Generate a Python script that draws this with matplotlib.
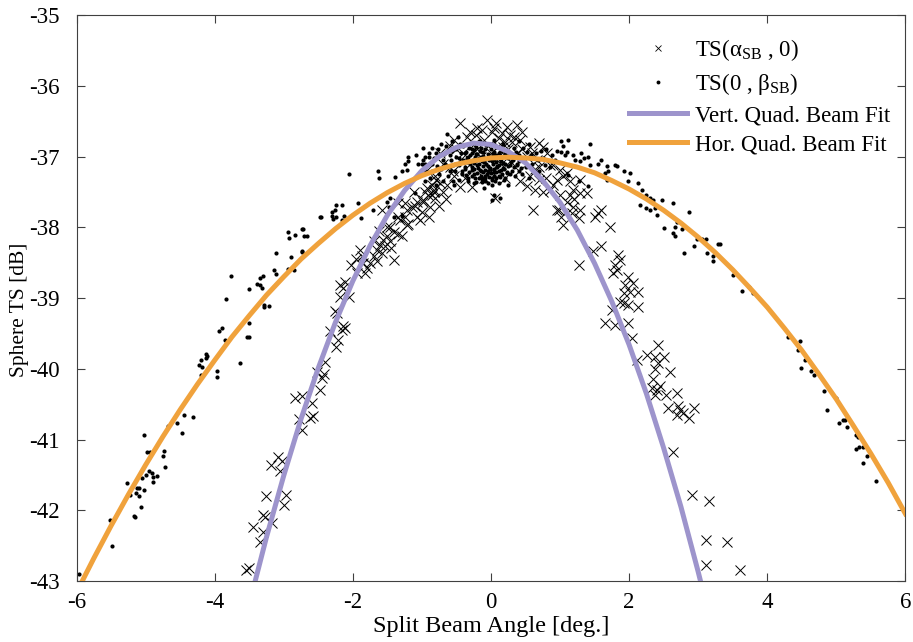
import numpy as np
import matplotlib.pyplot as plt
from matplotlib.lines import Line2D

plt.rcParams['font.family'] = ['Liberation Serif', 'DejaVu Serif']
plt.rcParams['mathtext.fontset'] = 'custom'
plt.rcParams['mathtext.rm'] = 'Liberation Serif'
plt.rcParams['mathtext.it'] = 'Liberation Serif'
plt.rcParams['axes.unicode_minus'] = False

# TS(alpha_SB, 0) : vertical split-beam angle scan (crosses)
alpha_pts = [
    (-2.84, -40.42), (-2.73, -40.39), (-2.78, -40.71), (-2.74, -40.86), (-3.08, -41.25),
    (-3.19, -41.36), (-3.02, -41.30), (-3.06, -41.44), (-3.25, -41.80), (-2.97, -41.79),
    (-3.00, -41.93), (-3.30, -42.06), (-3.27, -42.09), (-3.45, -42.24), (-3.17, -42.18),
    (-3.30, -42.31), (-3.35, -42.45), (-3.54, -42.85), (-3.51, -42.82),
    (-2.18, -38.98), (-2.06, -38.99), (-2.26, -39.19), (-2.23, -39.21), (-2.14, -39.40),
    (-2.16, -39.45), (-2.11, -39.43), (-2.21, -39.59), (-2.24, -39.69), (-2.33, -39.47),
    (-2.40, -39.90), (-2.52, -40.04), (-2.42, -40.08), (-2.45, -40.13), (-2.48, -40.30),
    (-2.59, -40.48), (-2.57, -40.67), (-2.62, -40.70),
    (-0.79, -37.33), (-0.86, -37.40), (-0.93, -37.45), (-0.83, -37.50), (-0.91, -37.54),
    (-0.81, -37.59), (-0.98, -37.61), (-1.07, -37.64), (-1.12, -37.50), (-1.15, -37.71),
    (-1.22, -37.75), (-1.07, -37.85), (-1.24, -37.85), (-1.32, -37.90), (-1.22, -37.97),
    (-1.46, -37.99), (-1.41, -38.06), (-1.29, -38.12), (-1.51, -38.12), (-1.56, -38.18),
    (-1.46, -38.20), (-1.60, -38.25), (-1.53, -38.27), (-1.65, -38.32), (-1.58, -38.37),
    (-1.41, -38.46), (-1.70, -38.41), (-1.75, -38.51), (-1.65, -38.48), (-1.80, -38.58),
    (-1.89, -38.32), (-1.87, -38.41), (-2.02, -38.53), (-1.94, -38.65), (-1.82, -38.65),
    (-2.11, -38.77), (-2.18, -38.81), (-2.14, -38.86), (-1.58, -37.75), (-1.03, -37.90),
    (-1.34, -37.66), (-1.70, -38.20), (-1.62, -38.05), (-1.50, -38.00), (-1.35, -37.85),
    (-1.25, -37.65), (-1.10, -37.70), (-0.95, -37.50), (-1.85, -38.50), (-1.95, -38.45),
    (-1.45, -38.30), (-1.35, -38.10), (-1.20, -37.95),
    (-0.45, -36.53), (-0.06, -36.48), (0.08, -36.53), (0.23, -36.58), (0.37, -36.55),
    (-0.13, -36.62), (0.01, -36.65), (0.16, -36.67), (0.28, -36.70), (-0.21, -36.70),
    (-0.30, -36.65), (-0.54, -36.77), (0.42, -36.77), (0.69, -36.81), (0.57, -36.86),
    (-0.74, -36.95), (0.81, -36.95), (0.37, -36.95), (0.52, -37.00), (0.66, -37.05),
    (0.28, -37.07), (0.86, -37.12), (0.64, -37.17), (0.40, -37.21), (0.57, -37.28),
    (0.42, -37.35), (0.69, -37.33), (0.52, -37.42), (0.64, -37.47), (0.76, -37.50),
    (-0.93, -37.19), (-0.81, -37.28), (-0.74, -37.38), (-0.64, -37.40), (-0.54, -37.28),
    (-0.45, -37.43), (-0.83, -37.47), (-0.98, -37.64), (-0.88, -37.71), (-0.69, -37.50),
    (-0.28, -37.43), (0.06, -37.59), (0.61, -37.75), (0.95, -37.75), (0.18, -36.86),
    (-0.45, -37.05), (-0.20, -36.90), (0.00, -36.95), (0.10, -37.00), (-0.10, -36.76),
    (0.20, -36.80), (-0.35, -36.72), (0.33, -36.72), (0.05, -36.60), (-0.25, -36.82),
    (0.12, -36.74), (-0.05, -36.85), (-0.60, -37.15), (-0.38, -37.30),
    (-0.50, -36.90), (-0.40, -36.95), (-0.30, -37.10), (-0.15, -37.00), (0.00, -37.20),
    (0.15, -37.10), (0.25, -36.90), (0.30, -36.80), (0.45, -36.90), (-0.60, -36.85),
    (-0.70, -37.10), (-0.55, -37.20), (0.20, -37.30), (-0.10, -37.30), (0.10, -36.85),
    (-0.20, -36.60), (0.45, -36.65), (0.60, -36.95), (0.70, -37.15), (0.80, -37.30),
    (-0.85, -37.55), (-0.65, -37.60), (-0.75, -37.70), (-0.90, -37.85), (-1.00, -37.78),
    (0.90, -37.40), (1.00, -37.55), (1.15, -37.35), (1.20, -37.60),
    (0.76, -36.86), (0.90, -37.12), (1.00, -37.19), (1.10, -37.24), (1.05, -37.28),
    (0.95, -37.33), (1.29, -37.33), (1.19, -37.47), (1.29, -37.52), (1.14, -37.54),
    (1.39, -37.52), (1.10, -37.64), (1.19, -37.71), (1.29, -37.75), (1.27, -37.87),
    (0.98, -37.75), (1.02, -37.85), (1.05, -37.97), (1.17, -37.80), (1.51, -37.85),
    (1.60, -37.75), (1.55, -37.80), (1.72, -37.99), (1.60, -38.27), (1.48, -38.34),
    (1.27, -38.53), (1.84, -38.39), (1.87, -38.46), (1.80, -38.53), (1.82, -38.60),
    (1.77, -38.65), (1.99, -38.70), (2.06, -38.79), (1.94, -38.81), (2.13, -38.91),
    (1.92, -38.93), (2.01, -38.91), (0.86, -37.47),
    (1.92, -39.07), (1.99, -39.10), (2.13, -39.12), (1.87, -39.05), (1.75, -39.17),
    (1.65, -39.35), (1.80, -39.38), (1.99, -39.35), (2.04, -39.57), (2.42, -39.66),
    (2.26, -39.80), (2.11, -39.87), (2.38, -39.83), (2.50, -39.83), (2.42, -39.92),
    (2.38, -40.01), (2.59, -40.04), (2.35, -40.15), (2.33, -40.27), (2.40, -40.30),
    (2.38, -40.37), (2.45, -40.25), (2.54, -40.37), (2.69, -40.34), (2.57, -40.56),
    (2.71, -40.53), (2.74, -40.58), (2.69, -40.65), (2.78, -40.63), (2.86, -40.70),
    (2.94, -40.56), (2.64, -41.17), (2.91, -41.78), (3.15, -41.87), (3.12, -42.42),
    (3.11, -42.78), (3.42, -42.45), (3.60, -42.85),
]

# TS(0, beta_SB) : horizontal split-beam angle scan (dots)
beta_pts = [
    (-2.94, -38.06), (-2.92, -38.15), (-2.84, -38.11), (-2.74, -38.03), (-3.11, -38.37),
    (-2.90, -38.42), (-2.74, -38.35), (-3.14, -38.60), (-3.11, -38.66), (-2.94, -38.59),
    (-2.85, -38.61), (-3.76, -38.69), (-3.34, -38.72), (-3.30, -38.69), (-3.39, -38.80),
    (-3.34, -38.81), (-3.31, -38.86), (-3.50, -38.87), (-3.84, -39.01), (-3.29, -39.10),
    (-3.22, -39.11), (-3.29, -39.13), (-3.90, -39.42), (-3.94, -39.46), (-3.85, -39.59),
    (-3.51, -39.36), (-3.53, -39.55), (-3.50, -39.55), (-4.20, -39.87), (-4.13, -39.79),
    (-4.11, -39.82), (-4.13, -39.85), (-4.23, -39.94), (-4.18, -39.98), (-3.63, -39.92),
    (-3.97, -40.03), (-3.96, -40.12), (-4.20, -40.09),
    (-5.96, -42.90), (-5.52, -42.14), (-5.48, -42.50), (-5.27, -41.61), (-5.22, -41.79),
    (-5.17, -42.08), (-5.155, -42.09), (-5.14, -41.75), (-5.12, -41.69), (-5.10, -41.69),
    (-5.09, -41.80), (-5.06, -41.95), (-5.03, -41.71), (-5.05, -41.55), (-5.02, -40.93),
    (-4.99, -41.50), (-4.98, -41.18), (-4.94, -41.17), (-4.95, -41.45), (-4.90, -41.48),
    (-4.89, -41.53), (-4.89, -41.60), (-4.84, -41.51), (-4.75, -41.23), (-4.73, -41.16),
    (-4.72, -41.39), (-4.67, -40.81), (-4.54, -40.77), (-4.47, -40.91), (-4.45, -40.66),
    (-4.31, -40.68),
    (-2.05, -37.25), (-1.63, -37.20), (-1.62, -37.30), (-1.20, -37.00), (-1.20, -37.06),
    (-1.24, -37.11), (-1.29, -37.20), (-1.22, -37.19), (-1.05, -37.11), (-1.00, -37.11),
    (-0.95, -37.00), (-0.95, -37.11), (-1.39, -37.29), (-1.10, -37.51), (-1.46, -37.59),
    (-1.51, -37.64), (-1.92, -37.65), (-1.71, -37.75), (-1.48, -37.71), (-1.40, -37.86),
    (-1.29, -37.84), (-2.16, -37.69), (-2.24, -37.68), (-2.26, -37.75), (-2.30, -37.78),
    (-2.30, -37.84), (-2.28, -37.89), (-2.24, -37.85), (-2.16, -37.90), (-2.13, -37.84),
    (-2.48, -37.85), (-2.46, -37.86), (-1.88, -37.87), (-2.72, -38.03), (-2.71, -38.12),
    (-2.67, -38.13), (-2.74, -38.34),
    # dense core near boresight
    (-0.36, -36.93), (-0.35, -37.02), (-0.37, -37.17), (-0.36, -37.26),
    (-0.32, -36.88), (-0.33, -37.00), (-0.31, -37.11), (-0.32, -37.22), (-0.33, -37.34),
    (-0.28, -36.95), (-0.29, -37.06), (-0.27, -37.19), (-0.28, -37.28),
    (-0.24, -36.91), (-0.23, -37.00), (-0.25, -37.09), (-0.24, -37.17), (-0.23, -37.31),
    (-0.20, -36.97), (-0.21, -37.05), (-0.19, -37.16), (-0.20, -37.24), (-0.21, -37.36),
    (-0.16, -36.92), (-0.15, -37.01), (-0.17, -37.10), (-0.16, -37.19), (-0.15, -37.27),
    (-0.12, -36.99), (-0.13, -37.06), (-0.11, -37.13), (-0.12, -37.22), (-0.13, -37.32),
    (-0.08, -36.90), (-0.09, -37.03), (-0.07, -37.11), (-0.08, -37.19), (-0.09, -37.28),
    (-0.08, -37.35),
    (-0.04, -36.96), (-0.03, -37.05), (-0.05, -37.14), (-0.04, -37.21), (-0.03, -37.29),
    (0.00, -37.00), (0.01, -37.07), (-0.01, -37.16), (0.00, -37.24), (0.01, -37.33),
    (0.04, -36.93), (0.05, -37.03), (0.03, -37.11), (0.04, -37.18), (0.05, -37.27),
    (0.08, -36.98), (0.07, -37.08), (0.09, -37.15), (0.08, -37.22), (0.07, -37.31),
    (0.12, -36.95), (0.13, -37.04), (0.11, -37.12), (0.12, -37.20), (0.13, -37.29),
    (0.16, -37.00), (0.15, -37.07), (0.17, -37.16), (0.16, -37.25),
    (0.20, -36.97), (0.21, -37.10), (0.19, -37.18), (0.20, -37.30),
    (0.24, -37.02), (0.25, -37.13), (0.23, -37.22),
    (0.28, -36.96), (0.29, -37.08), (0.27, -37.25),
    (0.32, -37.01), (0.33, -37.15), (0.36, -36.94), (0.37, -37.12), (0.40, -37.06),
    (0.41, -37.20),
    (-0.30, -36.98), (-0.26, -37.05), (-0.22, -36.96), (-0.20, -37.12), (-0.17, -37.02),
    (-0.15, -37.20), (-0.12, -36.94), (-0.10, -37.08), (-0.06, -37.25), (-0.02, -37.18),
    (0.02, -37.30), (0.03, -36.97), (0.05, -37.22), (0.09, -37.14), (0.11, -37.27),
    (0.15, -37.19), (0.17, -37.09), (0.19, -37.33), (0.23, -37.24),
    (-0.28, -37.15), (-0.24, -37.25), (-0.18, -37.30), (-0.13, -37.36), (-0.09, -37.30),
    (-0.05, -37.38), (0.01, -37.40), (0.06, -37.35), (0.12, -37.38),
    (-0.27, -36.90), (-0.21, -36.86), (-0.14, -36.88), (-0.07, -36.84), (0.00, -36.90),
    (0.08, -36.87), (0.14, -36.92), (0.20, -36.95), (0.26, -36.99),
    (0.27, -37.12), (0.30, -37.20), (0.32, -37.05), (0.35, -37.28), (0.38, -37.10),
    (0.41, -36.98), (0.44, -37.16), (0.48, -37.05), (0.52, -36.93),
    (-0.35, -37.08), (-0.38, -36.95), (-0.42, -37.20), (-0.46, -37.02), (-0.50, -36.90),
    (-0.55, -37.12), (-0.60, -36.98), (-0.65, -36.85), (-0.70, -37.05), (-0.57, -36.78),
    (-0.48, -36.72), (-0.63, -36.68),
    (-0.16, -36.78), (0.05, -36.76), (-0.32, -36.82), (0.18, -36.83), (0.33, -36.88),
    (-0.40, -36.85), (-0.25, -37.38), (-0.33, -37.30), (-0.47, -37.33), (0.02, -37.61),
    (0.13, -37.59), (0.04, -37.54), (0.25, -37.40), (-0.10, -37.45),
    (-0.98, -37.05), (-0.93, -37.12), (-0.90, -36.95), (-0.86, -37.20), (-0.82, -37.02),
    (-0.78, -37.13), (-0.76, -36.90), (-0.72, -37.18), (-0.68, -36.97), (-0.66, -37.10),
    (-0.62, -37.28), (-0.58, -37.05), (-0.56, -36.92), (-0.52, -37.20), (-0.50, -37.00),
    (-0.47, -37.12), (-0.44, -36.95), (-0.42, -37.25), (-0.40, -37.05), (-0.38, -37.15),
    (-0.73, -36.83), (-0.85, -36.88), (-0.69, -37.35), (-0.53, -37.40), (-0.45, -36.82),
    (-0.60, -37.20), (-1.03, -37.22), (-1.08, -36.98), (-0.95, -37.35), (-0.80, -37.40),
    (0.45, -37.25), (0.50, -37.15), (0.55, -37.30), (0.58, -36.98), (0.62, -37.22),
    (0.68, -37.05), (0.72, -36.92), (0.78, -37.12), (0.88, -36.98), (0.46, -36.88),
    (0.55, -36.82), (0.40, -36.78),
    (0.60, -37.10), (0.65, -36.95), (0.70, -37.20), (0.75, -37.02), (0.80, -36.90),
    (0.85, -37.15), (0.92, -37.05), (0.95, -36.92),
    (-0.80, -36.95), (-0.85, -37.10), (-0.90, -37.00), (-0.95, -37.20), (-0.75, -37.25),
    (-0.88, -37.30), (-0.98, -36.88), (-0.55, -37.35),
    (1.02, -36.78), (1.12, -36.77), (1.44, -36.82), (1.05, -36.85), (1.02, -36.93),
    (1.10, -36.93), (1.07, -36.98), (1.19, -36.98), (1.31, -36.95), (1.34, -37.02),
    (1.22, -37.05), (1.29, -37.07), (1.41, -37.00), (1.43, -37.12), (1.55, -37.10),
    (1.60, -37.05), (1.68, -37.14), (1.80, -37.12), (1.82, -37.13), (1.70, -37.21),
    (1.65, -37.24), (1.92, -37.21), (2.01, -37.24), (1.99, -37.34), (1.68, -37.33),
    (1.27, -37.34), (1.41, -37.42), (1.12, -37.26), (2.13, -37.38), (2.18, -37.48),
    (2.25, -37.54), (2.30, -37.58), (2.35, -37.61), (2.16, -37.68), (2.25, -37.73),
    (2.30, -37.75), (2.37, -37.73), (2.40, -37.83), (2.47, -37.62), (2.64, -37.65),
    (2.69, -37.93), (2.66, -37.99), (2.50, -38.01), (2.64, -38.08), (2.66, -38.12),
    (2.76, -38.03), (2.87, -37.78), (2.94, -38.27), (2.79, -38.36),
    (2.98, -38.16), (3.05, -38.17), (3.11, -38.16), (3.13, -38.37), (3.21, -38.41),
    (3.22, -38.47), (3.29, -38.24), (3.32, -38.24), (3.50, -38.68), (3.64, -38.90),
    (3.73, -38.84), (3.79, -38.93), (4.30, -39.55), (4.48, -39.61), (4.44, -39.73),
    (4.55, -39.87), (4.49, -39.99),
    (4.63, -40.03), (4.68, -40.09), (4.82, -40.31), (4.87, -40.58), (4.99, -40.41),
    (5.04, -40.77), (5.10, -40.72), (5.12, -40.73), (5.15, -40.83), (5.29, -40.94),
    (5.32, -40.97), (5.38, -41.11), (5.28, -41.13), (5.33, -41.11), (5.44, -41.24),
    (5.38, -41.33), (5.57, -41.59),
]

# quadratic beam fits
vert_fit_angle = [-3.5, -3.25, -3.0, -2.75, -2.5, -2.25, -2.0, -1.75, -1.5, -1.25, -1.0,
                  -0.75, -0.5, -0.25, 0.0, 0.25, 0.5, 0.75, 1.0, 1.25, 1.5, 1.75, 2.0,
                  2.25, 2.5, 2.75, 3.0, 3.25]
vert_fit_ts = [-43.33, -42.38, -41.51, -40.71, -39.99, -39.34, -38.76, -38.26, -37.83,
               -37.48, -37.20, -37.00, -36.87, -36.81, -36.83, -36.93, -37.09, -37.34,
               -37.65, -38.04, -38.51, -39.05, -39.66, -40.35, -41.12, -41.95, -42.87,
               -43.85]
hor_fit_angle = [-6.0, -5.75, -5.5, -5.25, -5.0, -4.75, -4.5, -4.25, -4.0, -3.75, -3.5,
                 -3.25, -3.0, -2.75, -2.5, -2.25, -2.0, -1.75, -1.5, -1.25, -1.0, -0.75,
                 -0.5, -0.25, 0.0, 0.25, 0.5, 0.75, 1.0, 1.25, 1.5, 1.75, 2.0, 2.25, 2.5,
                 2.75, 3.0, 3.25, 3.5, 3.75, 4.0, 4.25, 4.5, 4.75, 5.0, 5.25, 5.5, 5.75, 6.0]
hor_fit_ts = [-43.16, -42.68, -42.22, -41.78, -41.36, -40.96, -40.58, -40.22, -39.88,
              -39.55, -39.25, -38.96, -38.70, -38.45, -38.23, -38.02, -37.83, -37.66,
              -37.51, -37.38, -37.27, -37.18, -37.11, -37.06, -37.02, -37.01, -37.02,
              -37.04, -37.09, -37.15, -37.23, -37.34, -37.46, -37.60, -37.76, -37.94,
              -38.14, -38.36, -38.60, -38.86, -39.13, -39.43, -39.74, -40.08, -40.43,
              -40.81, -41.20, -41.61, -42.05]

x_ticks = [-6, -4, -2, 0, 2, 4, 6]
y_ticks = [-43, -42, -41, -40, -39, -38, -37, -36, -35]

alpha_sb, ts_alpha = np.array(alpha_pts).T
beta_sb, ts_beta = np.array(beta_pts).T

purple = '#9d94cc'
orange = '#f0a23c'

fig = plt.figure(figsize=(9.13, 6.42), dpi=100)
ax = fig.add_axes([0.0838, 0.0950, 0.9079, 0.8816])

ax.plot(alpha_sb, ts_alpha, 'x', color='black', ms=7, mew=0.7, zorder=2)
ax.plot(beta_sb, ts_beta, 'o', color='black', ms=3.0, mew=0, zorder=2)
ax.plot(vert_fit_angle, vert_fit_ts, color=purple, lw=3.6, zorder=3,
        solid_joinstyle='round')
ax.plot(hor_fit_angle, hor_fit_ts, color=orange, lw=3.6, zorder=3,
        solid_joinstyle='round')

ax.set_xlim(-6, 6)
ax.set_ylim(-43, -35)
ax.set_xticks(x_ticks)
ax.set_yticks(y_ticks)
ax.tick_params(direction='in', length=6, width=0.8, top=True, right=True,
               labelsize=16.5, color='#404040')
ax.tick_params(axis='y', pad=12)
ax.tick_params(axis='x', pad=8)
for sp in ax.spines.values():
    sp.set_color('#404040')
    sp.set_linewidth(0.8)

ax.set_xlabel('Split Beam Angle [deg.]', fontsize=17.5, labelpad=2)
ax.set_ylabel('Sphere TS [dB]', fontsize=15.5)
ax.yaxis.set_label_coords(-0.057, 0.48)

handles = [
    Line2D([], [], ls='none', marker='x', color='black', ms=4.5, mew=0.6),
    Line2D([], [], ls='none', marker='o', color='black', ms=2.8, mew=0),
    Line2D([], [], color=purple, lw=3.6),
    Line2D([], [], color=orange, lw=3.6),
]
labels = [r'TS(α$_{\mathrm{SB}}$ , 0)', r'TS(0 , β$_{\mathrm{SB}}$)',
          'Vert. Quad. Beam Fit', 'Hor. Quad. Beam Fit']
ax.legend(handles, labels, loc='upper right', bbox_to_anchor=(0.998, 0.985),
          frameon=False, fontsize=16.5, handlelength=2.5, handletextpad=0.35,
          labelspacing=0.35, borderaxespad=0.2)

fig.savefig('out.png', dpi=100)
